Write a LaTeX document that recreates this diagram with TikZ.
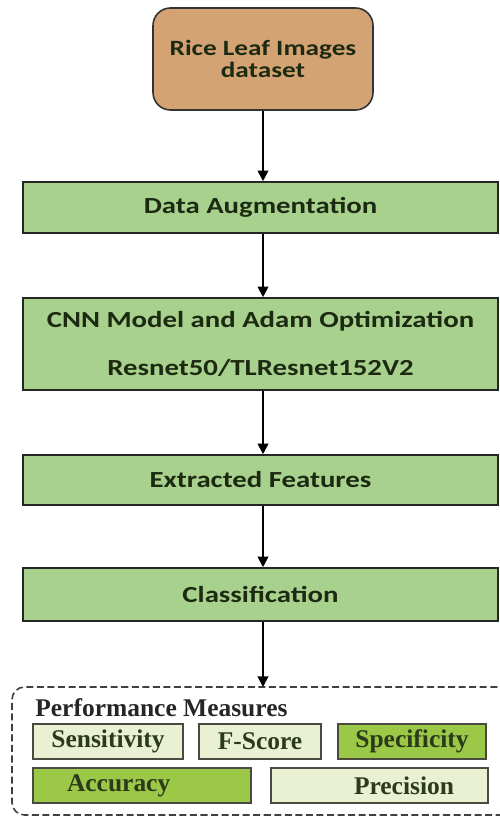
\documentclass[tikz,border=0pt]{standalone}
\usepackage{fontspec}
\usetikzlibrary{arrows.meta}

\newfontfamily\calibrifont{Carlito}[FakeStretch=1.25]
\newfontfamily\tnrfont{Liberation Serif}

\definecolor{ricetan}{HTML}{D4A373}
\definecolor{stagegreen}{HTML}{A9D18E}
\definecolor{measurepale}{HTML}{EAF1D2}
\definecolor{measurelime}{HTML}{9BC846}
\definecolor{stagetext}{HTML}{1C2A12}
\definecolor{measuretext}{HTML}{2C3A1C}
\definecolor{measureline}{HTML}{4A4A40}

\tikzset{
    stage/.style={draw=black!85, line width=0.9pt, fill=stagegreen, minimum width=9.5cm,
        inner sep=0pt, text=stagetext, font=\calibrifont\bfseries\fontsize{13.1}{15}\selectfont},
    measure/.style={draw=measureline, line width=1.1pt, minimum height=0.7cm, inner sep=0pt,
        text=measuretext, font=\tnrfont\bfseries\fontsize{14.5}{16}\selectfont},
    flow/.style={-{Triangle[width=6pt,length=6pt]}, line width=1.1pt},
    frame/.style={draw=black!75, line width=0.9pt, dash pattern=on 4pt off 2pt, rounded corners=0.25cm},
}

\begin{document}
\begin{tikzpicture}
        \useasboundingbox (0,0) rectangle (9.98,-16.32); %page size

        \node [draw=black!80, line width=0.9pt, fill=ricetan, rounded corners=0.35cm,
            minimum width=4.4cm, minimum height=2.04cm, align=center, text=stagetext,
            font=\calibrifont\bfseries\fontsize{12.4}{12.4}\selectfont]
            (rice) at (5.26,-1.18) {Rice Leaf Images\\dataset}; %Input data
        \node [stage, minimum height=1.02cm] (aug) at (5.21,-4.15) {Data Augmentation};
        \node [stage, minimum height=1.84cm, align=center] (cnn) at (5.21,-6.88)
            {CNN Model and Adam Optimization\\[12pt]Resnet50/TLResnet152V2}; %Model
        \node [stage, minimum height=1.0cm] (feat) at (5.21,-9.6) {Extracted Features};
        \node [stage, minimum height=1.06cm] (cls) at (5.21,-11.89) {Classification};

        \coordinate (perf) at (5.26,-13.74); %Top of the measures frame
        \draw [frame] (11,-13.74) -- (0.24,-13.74) -- (0.24,-16.30) -- (11,-16.30); %open to the right edge
        \node [anchor=west, inner sep=0pt, text=black!85,
            font=\tnrfont\bfseries\fontsize{14.5}{16}\selectfont]
            (perftitle) at (0.7,-14.16) {Performance Measures};
        \node [measure, fill=measurepale, minimum width=3.0cm] (sens) at (2.16,-14.83) {Sensitivity};
        \node [measure, fill=measurepale, minimum width=2.44cm] (fscore) at (5.2,-14.83) {F-Score};
        \node [measure, fill=measurelime, minimum width=2.96cm] (spec) at (8.24,-14.83) {Specificity};
        \node [measure, fill=measurelime, text width=4.36cm, align=left] (acc) at (2.84,-15.71)
            {\hspace*{0.68cm}Accuracy};
        \node [measure, fill=measurepale, text width=4.34cm, align=left] (prec) at (7.59,-15.71)
            {\hspace*{1.66cm}Precision};

        \draw [flow] (rice.south) -- (rice.south |- aug.north);
        \draw [flow] (rice.south |- aug.south) -- (rice.south |- cnn.north);
        \draw [flow] (rice.south |- cnn.south) -- (rice.south |- feat.north);
        \draw [flow] (rice.south |- feat.south) -- (rice.south |- cls.north);
        \draw [flow] (rice.south |- cls.south) -- (perf); %To measures
    \end{tikzpicture}
\end{document}
